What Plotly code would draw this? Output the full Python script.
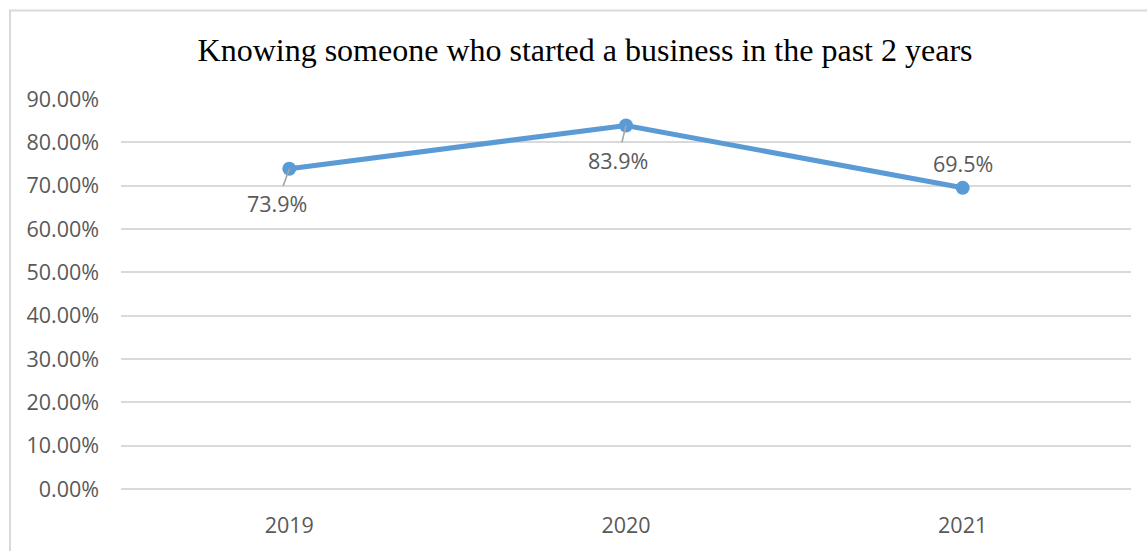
import plotly.graph_objects as go

# Share of respondents knowing someone who started a business in the past 2 years
years = ["2019", "2020", "2021"]
share = [0.739, 0.839, 0.695]
labels = ["73.9%", "83.9%", "69.5%"]

y_ticks = [0.0, 0.1, 0.2, 0.3, 0.4, 0.5, 0.6, 0.7, 0.8, 0.9]

W, H = 1147, 551
ML, MR, MT, MB = 121, 16, 99, 60
PW, PH = W - ML - MR, H - MT - MB

LINE_BLUE = "#5B9BD5"
TEXT_GREY = "#595959"
GRID_GREY = "#D9D9D9"
SANS = "Open Sans"
FS = 21.5

fig = go.Figure(
    go.Scatter(
        x=years,
        y=share,
        mode="lines+markers",
        line=dict(color=LINE_BLUE, width=5),
        marker=dict(color=LINE_BLUE, size=14),
        hoverinfo="skip",
    )
)

# Data labels: first two sit below the point with a short leader line,
# the last one sits above. Category positions are given by index.
label_offsets = [(-12.5, 35), (-8.5, 35), (0, -24)]
for i, (val, txt, (ox, oy)) in enumerate(zip(share, labels, label_offsets)):
    if oy > 0:
        fig.add_annotation(
            x=i, y=val, text=txt,
            showarrow=True, arrowhead=0, arrowwidth=1.6, arrowcolor="#A6A6A6",
            ax=ox, ay=oy, standoff=0, startstandoff=2,
            font=dict(family=SANS, size=FS, color=TEXT_GREY),
        )
    else:
        fig.add_annotation(
            x=i, y=val, text=txt, showarrow=False,
            xshift=ox, yshift=-oy,
            font=dict(family=SANS, size=FS, color=TEXT_GREY),
        )

# Chart-area frame
fig.add_shape(
    type="rect", xref="paper", yref="paper",
    x0=(10 - ML) / PW, x1=(W + 20 - ML) / PW,
    y0=-(MB + 20) / PH, y1=(H - MB - 10) / PH,
    line=dict(color=GRID_GREY, width=2), fillcolor="rgba(0,0,0,0)",
    layer="below",
)

fig.update_layout(
    width=W, height=H,
    margin=dict(l=ML, r=MR, t=MT, b=MB),
    paper_bgcolor="white", plot_bgcolor="white",
    showlegend=False,
    title=dict(
        text="Knowing someone who started a business in the past 2 years",
        x=585 / W, xanchor="center", xref="container",
        y=1 - 50 / H, yanchor="middle",
        font=dict(family="Liberation Serif", size=32, color="black"),
    ),
    xaxis=dict(
        type="category", range=[-0.5, 2.5],
        showgrid=False, showline=False, zeroline=False,
        ticks="", ticklabelstandoff=21,
        tickfont=dict(family=SANS, size=FS, color=TEXT_GREY),
    ),
    yaxis=dict(
        range=[0, 0.9], tickvals=y_ticks, tickformat=".2%",
        showgrid=True, gridcolor=GRID_GREY, gridwidth=1.5,
        zeroline=True, zerolinecolor=GRID_GREY, zerolinewidth=1.5,
        showline=False, ticks="", ticklabelstandoff=21,
        tickfont=dict(family=SANS, size=FS, color=TEXT_GREY),
    ),
)

fig.write_html("out.html")
